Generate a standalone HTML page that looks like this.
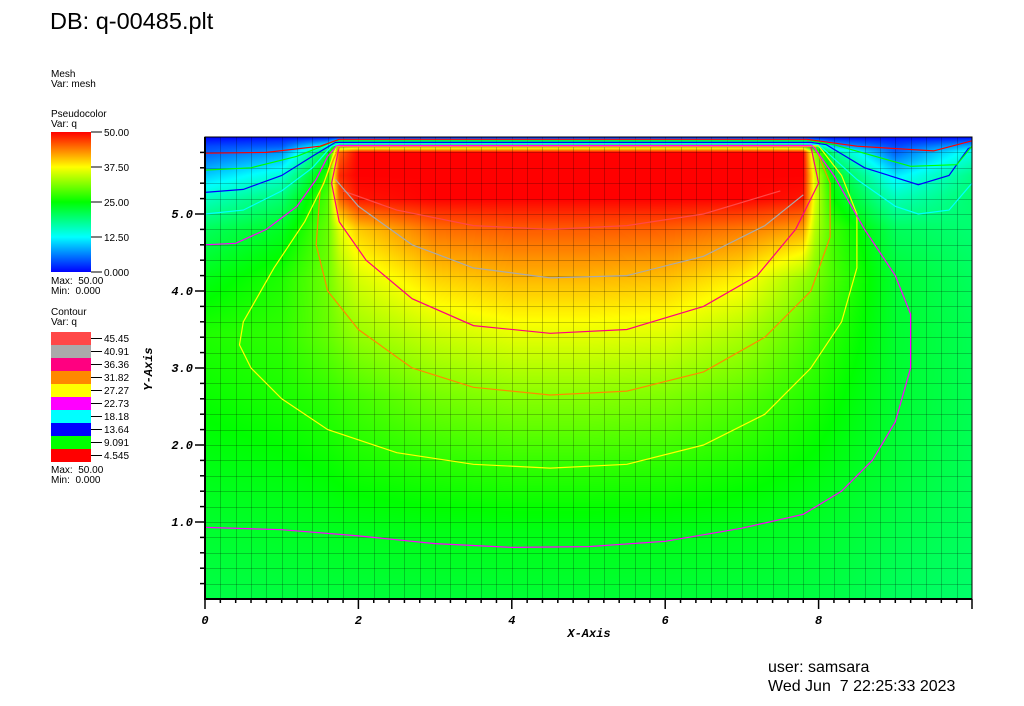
<!DOCTYPE html>
<html><head><meta charset="utf-8">
<style>
body{margin:0;background:#fff;width:1024px;height:706px;position:relative;overflow:hidden;font-family:"Liberation Sans",sans-serif;}
.t{position:absolute;white-space:nowrap;color:#000;}
.s{font-size:10px;line-height:10px;}
</style></head><body>
<div class="t" style="left:50px;top:8px;font-size:23.5px;">DB: q-00485.plt</div>
<div class="t s" style="left:51px;top:70px;">Mesh<br>Var: mesh</div>
<div class="t s" style="left:51px;top:110px;">Pseudocolor<br>Var: q</div>
<div style="position:absolute;left:51px;top:132px;width:40px;height:140px;background:linear-gradient(to bottom,#ff0000,#ffff00 25%,#00ff00 50%,#00ffff 75%,#0000ff);"></div>
<div class="t s" style="left:51px;top:277px;">Max: &nbsp;50.00<br>Min: &nbsp;0.000</div>
<div class="t s" style="left:51px;top:308px;">Contour<br>Var: q</div>
<div class="t s" style="left:51px;top:466px;">Max: &nbsp;50.00<br>Min: &nbsp;0.000</div>
<div class="t" style="left:768px;top:658px;font-size:16px;line-height:19px;">user: samsara<br>Wed Jun &nbsp;7 22:25:33 2023</div>
<canvas id="field" width="767" height="462" style="position:absolute;left:205px;top:137px;"></canvas>
<svg id="svg" width="1024" height="706" style="position:absolute;left:0;top:0;"></svg>
<script>
// ---- data ----
const gridX=[0,1,1.6,1.75,2,3,4,5,6,7,7.8,7.95,8.2,9,10];
const gridY=[0,0.9,1.7,2.65,3.45,4.15,4.8,5.2,5.5,5.8,5.88,5.95,6];
const qValues=[
[21.5,21.8,22,22,22.1,22.3,22.4,22.4,22.3,22.1,21.8,21.7,21.5,20.5,19.8],
[22.7,23.2,23.5,23.6,23.7,24,24.1,24.1,24,23.6,23.1,22.9,22.6,21.5,20.5],
[24,24.5,25.2,25.5,26,26.8,27.3,27.3,27,26,24.8,24.5,24,22.3,20.8],
[25.5,26.3,27.3,27.8,28.5,30.8,31.8,31.8,31.3,29.5,27,26.5,25.5,22.6,21],
[26.5,27.3,30,31,32.5,35,36.4,36.4,36,33.5,29.5,28.5,27,22.7,21],
[24,26.5,30.5,33,35.5,39.5,40.9,40.9,40.5,38,32.5,31,28.5,22.5,20.5],
[20.5,23.3,30,36,40,44.5,45.5,45.5,45.3,44,42,34,28,20.5,19.5],
[15.5,19.5,29,45,49,50,50,50,50,50,49,36,25,16,19.5],
[10,14.5,27,48,50,50,50,50,50,50,50,36,23.5,11.5,18.5],
[4.6,7.5,22,45,50,50,50,50,50,50,50,32,18,4.7,14],
[3.5,4.5,14,30,32,32,32,32,32,32,30,20,9,3.5,9],
[1.5,2.5,6,12,13,13,13,13,13,13,12,8,4,2,4],
[0,0,0,0,0,0,0,0,0,0,0,0,0,0,0]];
const xTicks=[0,2,4,6,8];
const yTicks=[1,2,3,4,5];
const contourLevels=["45.45","40.91","36.36","31.82","27.27","22.73","18.18","13.64","9.091","4.545"];
const contourColors=["#ff4848","#aaaaaa","#ff0080","#ff8800","#ffff00","#ff00ff","#00ffff","#0000ff","#00ff00","#ff0000"];
const c22a=[[0,0.93],[1,0.9],[2,0.82],[3,0.72],[4,0.67],[5,0.68],[6,0.75],[7,0.92],[7.8,1.1],[8.3,1.4],[8.7,1.8],[9,2.3],[9.2,3.0],[9.2,3.7],[9.0,4.2],[8.6,4.8],[8.2,5.5],[7.95,5.85],[7.85,5.95]];
const c22b=[[0,4.6],[0.4,4.62],[0.8,4.8],[1.2,5.1],[1.45,5.45],[1.6,5.75],[1.72,5.89],[7.9,5.89]];
const c27=[[1.72,5.9],[1.55,5.4],[1.3,4.9],[0.9,4.3],[0.5,3.6],[0.45,3.3],[0.6,3.0],[1.0,2.6],[1.6,2.2],[2.5,1.9],[3.5,1.75],[4.5,1.7],[5.5,1.75],[6.5,2.0],[7.3,2.4],[7.9,3.0],[8.3,3.6],[8.5,4.3],[8.5,5.0],[8.3,5.5],[8.0,5.885],[1.72,5.885]];
const c31=[[1.75,5.88],[1.5,5.3],[1.45,4.6],[1.6,4.0],[2,3.5],[2.7,3.0],[3.5,2.75],[4.5,2.65],[5.5,2.7],[6.5,2.95],[7.3,3.4],[7.9,4.0],[8.15,4.7],[8.15,5.4],[7.95,5.88],[1.75,5.88]];
const c36=[[1.75,5.875],[1.65,5.4],[1.75,4.9],[2.1,4.4],[2.7,3.9],[3.5,3.55],[4.5,3.45],[5.5,3.5],[6.5,3.8],[7.2,4.2],[7.7,4.8],[8.0,5.4],[7.9,5.875],[1.75,5.875]];
const c41=[[1.7,5.45],[2,5.1],[2.7,4.6],[3.5,4.3],[4.5,4.17],[5.5,4.2],[6.5,4.45],[7.3,4.85],[7.8,5.25]];
const c45=[[1.8,5.3],[2.5,5.05],[3.5,4.85],[4.5,4.8],[5.5,4.85],[6.5,5.0],[7.5,5.3]];
const c18=[[0,5.0],[0.5,5.05],[1,5.3],[1.4,5.6],[1.65,5.88],[1.75,5.91],[7.9,5.91],[8.0,5.9],[8.5,5.45],[9,5.1],[9.3,5.0],[9.7,5.05],[10,5.4]];
const c13=[[0,5.28],[0.5,5.32],[1,5.5],[1.4,5.75],[1.7,5.93],[7.9,5.93],[8.1,5.9],[8.6,5.6],[9.3,5.38],[9.7,5.5],[9.95,5.85],[10,5.87]];
const c9=[[0,5.57],[0.6,5.6],[1.2,5.75],[1.7,5.95],[7.9,5.95],[8.2,5.9],[9.2,5.62],[9.8,5.64],[10,5.88]];
const c4=[[0,5.79],[0.8,5.8],[1.5,5.88],[1.75,5.97],[7.85,5.97],[8.5,5.88],[9.5,5.82],[10,5.95]];

// ---- axes ----
const X0=205,X1=972,Y0=599,Y1=137;
const sx=v=>X0+v/10*(X1-X0);
const sy=v=>Y0-v/6*(Y0-Y1);
function cmap(q){
  const t=Math.max(0,Math.min(1,q/50))*4;const i=Math.min(3,Math.floor(t));const f=t-i;
  const st=[[0,0,255],[0,255,255],[0,255,0],[255,255,0],[255,0,0]];
  const a=st[i],b=st[i+1];return [a[0]+(b[0]-a[0])*f,a[1]+(b[1]-a[1])*f,a[2]+(b[2]-a[2])*f];
}
function seg(arr,v){let i=0;while(i<arr.length-2&&v>arr[i+1])i++;const f=(v-arr[i])/(arr[i+1]-arr[i]);return [i,Math.max(0,Math.min(1,f))];}
const cv=document.getElementById('field');const ctx=cv.getContext('2d');
const W=cv.width,H=cv.height;const img=ctx.createImageData(W,H);
for(let py=0;py<H;py++){
  const yv=(Y0-(Y1+py+0.5))/(Y0-Y1)*6;const [j,fy]=seg(gridY,yv);
  for(let px=0;px<W;px++){
    const xv=(px+0.5)/W*10;const [i,fx]=seg(gridX,xv);
    const q=(qValues[j][i]*(1-fx)+qValues[j][i+1]*fx)*(1-fy)+(qValues[j+1][i]*(1-fx)+qValues[j+1][i+1]*fx)*fy;
    const c=cmap(q);const k=(py*W+px)*4;img.data[k]=c[0];img.data[k+1]=c[1];img.data[k+2]=c[2];img.data[k+3]=255;
  }
}
ctx.putImageData(img,0,0);

const NS='http://www.w3.org/2000/svg';const svg=document.getElementById('svg');
function mk(tag,attrs,parent){const e=document.createElementNS(NS,tag);for(const k in attrs)e.setAttribute(k,attrs[k]);(parent||svg).appendChild(e);return e;}
// mesh grid
const grid=mk('g',{stroke:'rgba(0,0,0,0.22)','stroke-width':1});


for(let k=1;k<50;k++){const x=Math.round(sx(k*0.2))+0.5;mk('line',{x1:x,x2:x,y1:Y1,y2:Y0},grid);}
for(let k=1;k<30;k++){const y=Math.round(sy(k*0.2))+0.5;mk('line',{x1:X0,x2:X1,y1:y,y2:y},grid);}
// contours
const contours=[[c45,0],[c41,1],[c36,2],[c31,3],[c27,4],[c22a,5],[c22b,5],[c18,6],[c13,7],[c9,8],[c4,9]];
contours.forEach(([pts,ci])=>{
  const p=mk('polyline',{points:pts.map(d=>sx(d[0]).toFixed(1)+','+sy(d[1]).toFixed(1)).join(' '),fill:'none',stroke:contourColors[ci],'stroke-width':1.2});
  
  
});
// frame & axes
mk('rect',{x:X0,y:Y1,width:X1-X0,height:Y0-Y1,fill:'none',stroke:'#000','stroke-width':1});
const ax=mk('g',{stroke:'#000','stroke-width':2});


mk('line',{x1:X0,x2:X0,y1:Y1,y2:Y0+1},ax);mk('line',{x1:X0-1,x2:X1,y1:Y0,y2:Y0},ax);
for(let k=0;k<=50;k++){const x=sx(k*0.2);const maj=k%10==0;mk('line',{x1:x,x2:x,y1:Y0,y2:Y0+(maj?10:4),'stroke-width':1.5},ax);}
for(let k=1;k<30;k++){const y=sy(k*0.2);const maj=k%5==0;mk('line',{x1:X0,x2:X0-(maj?10:5),y1:y,y2:y,'stroke-width':1.5},ax);}
xTicks.forEach(v=>{const t=mk('text',{x:sx(v),y:624,'text-anchor':'middle','font-family':'Liberation Mono, monospace','font-size':12,'font-weight':'bold','font-style':'italic'});t.textContent=String(v);

});
yTicks.forEach(v=>{const t=mk('text',{x:193,y:sy(v)+4,'text-anchor':'end','font-family':'Liberation Mono, monospace','font-size':12,'font-weight':'bold','font-style':'italic'});t.textContent=v.toFixed(1);

});
const xt=mk('text',{x:589,y:637,'text-anchor':'middle','font-family':'Liberation Mono, monospace','font-size':12,'font-weight':'bold','font-style':'italic'});xt.textContent='X-Axis';


const yt=mk('text',{x:0,y:0,transform:'translate(152,369) rotate(-90)','text-anchor':'middle','font-family':'Liberation Mono, monospace','font-size':12,'font-weight':'bold','font-style':'italic'});yt.textContent='Y-Axis';


// colorbar ticks
['50.00','37.50','25.00','12.50','0.000'].forEach((s,i)=>{const y=132+i*35;mk('line',{x1:91,x2:102,y1:y,y2:y,stroke:'#000','stroke-width':1});
const t=mk('text',{x:104,y:y+4,'font-size':10,'font-family':'Liberation Sans, sans-serif'});t.textContent=s;

});
// contour legend
contourLevels.forEach((s,i)=>{const y=332+i*13;
const r=mk('rect',{x:51,y:y,width:40,height:13,fill:contourColors[i]});


mk('line',{x1:91,x2:102,y1:y+6.5,y2:y+6.5,stroke:'#000','stroke-width':1});
const t=mk('text',{x:104,y:y+10,'font-size':10,'font-family':'Liberation Sans, sans-serif'});t.textContent=s;

});
</script>
</body></html>
